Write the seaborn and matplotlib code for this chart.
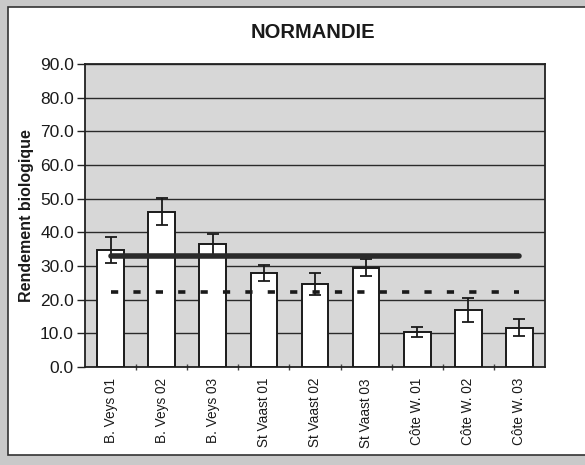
import matplotlib
matplotlib.use("Agg")
import matplotlib.pyplot as plt
import matplotlib.patches as mpatches
from matplotlib.ticker import FixedLocator, MultipleLocator, FormatStrFormatter
import numpy as np
import pandas as pd
import seaborn as sns

sites = ["B. Veys 01", "B. Veys 02", "B. Veys 03",
         "St Vaast 01", "St Vaast 02", "St Vaast 03",
         "Côte W. 01", "Côte W. 02", "Côte W. 03"]
rendement = [34.7, 46.1, 36.4, 27.8, 24.6, 29.5, 10.5, 16.9, 11.7]
erreur = [3.8, 4.0, 3.0, 2.4, 3.3, 2.5, 1.5, 3.6, 2.5]
moyenne_haute = 32.9
moyenne_basse = 22.3

df = pd.DataFrame({"site": sites, "rendement": rendement, "erreur": erreur})

sns.set_theme(style="white")
plt.rcParams["font.family"] = ["Liberation Sans", "DejaVu Sans"]

fig = plt.figure(figsize=(5.85, 4.65), dpi=100)
fig.patch.set_facecolor("#c9c9c9")
# white chart area with dark frame, kept behind the axes
frame = mpatches.Rectangle((8 / 585, 10 / 465), 1.0, 1 - 17 / 465,
                           transform=fig.transFigure, facecolor="white",
                           edgecolor="#333333", linewidth=1.2, zorder=-10)
fig.add_artist(frame)

ax = fig.add_axes([85 / 585, 1 - 367 / 465, 460 / 585, 303 / 465])
ax.set_zorder(1)
ax.set_facecolor("#d7d7d7")

sns.barplot(data=df, x="site", y="rendement", color="white", edgecolor="#1a1a1a",
            linewidth=1.4, width=0.52, errorbar=None, ax=ax, zorder=3)
ax.errorbar(np.arange(len(sites)), rendement, yerr=erreur, fmt="none",
            ecolor="#1a1a1a", elinewidth=1.3, capsize=4, capthick=1.3, zorder=4)

x = np.arange(len(sites))
ax.plot([x[0], x[-1]], [moyenne_haute] * 2, color="#2a2a2a", linewidth=4,
        solid_capstyle="round", zorder=5)
ax.plot([x[0], x[-1]], [moyenne_basse] * 2, color="#1a1a1a", linewidth=2.6,
        linestyle=(0, (2.0, 4.2)), zorder=5)

ax.set_ylim(0, 90)
ax.set_xlim(-0.5, len(sites) - 0.5)
ax.yaxis.set_major_locator(MultipleLocator(10))
ax.yaxis.set_major_formatter(FormatStrFormatter("%.1f"))
ax.grid(axis="y", color="#2a2a2a", linewidth=1.0, zorder=1)
ax.set_axisbelow(True)
for s in ax.spines.values():
    s.set_color("#222222")
    s.set_linewidth(1.3)

ax.tick_params(axis="y", direction="out", length=6, width=1, color="#222222",
               labelsize=12.5, pad=2, left=True)
ax.tick_params(axis="x", which="major", length=0, labelsize=9.8, pad=8,
               labelrotation=90)
ax.xaxis.set_minor_locator(FixedLocator(np.arange(0.5, len(sites) - 1, 1.0)))
ax.tick_params(axis="x", which="minor", direction="inout", length=5, width=1,
               color="#444444", bottom=True)
for lbl in ax.get_xticklabels():
    lbl.set_color("#1a1a1a")
for lbl in ax.get_yticklabels():
    lbl.set_color("#1a1a1a")

ax.set_xlabel("")
ax.set_ylabel("Rendement biologique", fontsize=11.5, fontweight="bold",
              color="#1a1a1a", labelpad=4)
fig.text(313 / 585, 1 - 33 / 465, "NORMANDIE", ha="center", va="center",
         fontsize=14.5, fontweight="bold", color="#1a1a1a")

fig.savefig("out.png", dpi=100, facecolor=fig.get_facecolor())
